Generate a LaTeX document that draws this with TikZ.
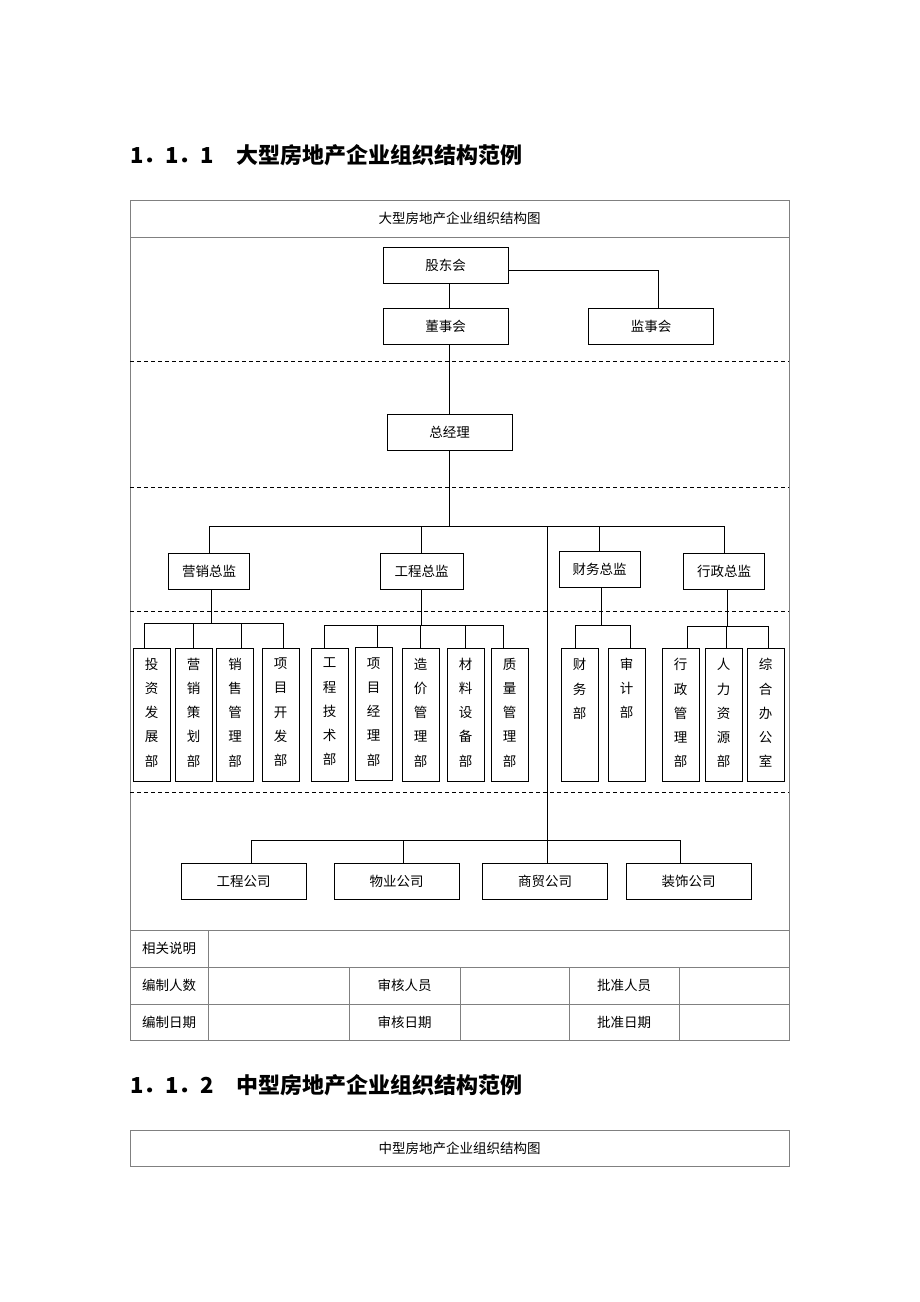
\documentclass[tikz,border=0pt]{standalone}
\usepackage{fontspec}
\setmainfont{Noto Sans CJK SC}
\usepackage{tikz}

% vertical text for the department boxes
\newcommand{\vtext}[1]{\parbox[c][113pt][t]{16pt}{\centering\fontsize{13.5}{24.2}\selectfont #1}}

\tikzset{
  unitbox/.style={draw, line width=1pt, minimum width=125, minimum height=36, inner sep=0pt, font=\fontsize{13.5}{16}\selectfont},
  chiefbox/.style={unitbox, minimum width=81},
  deptbox/.style={draw, line width=1pt, minimum width=37, minimum height=133, inner sep=0pt},
  link/.style={line width=0.9pt},
  sepline/.style={dash pattern=on 4pt off 3pt, line width=0.8pt},
  frame/.style={draw=gray, line width=1pt},
  cell/.style={font=\fontsize{13.5}{16}\selectfont, inner sep=0pt},
  heading/.style={anchor=west, inner sep=0pt, font=\fontsize{22}{26}\selectfont\bfseries},
}

\begin{document}
\begin{tikzpicture}[x=1pt, y=-1pt]
  \useasboundingbox (0,0) rectangle (920,1302);

  % headings
  \node[heading] (h1) at (130,155) {1．1．1　大型房地产企业组织结构范例};
  \node[heading] (h2) at (130,1085) {1．1．2　中型房地产企业组织结构范例};

  % table frame
  \draw[frame] (130,200) rectangle (789,1040);
  \draw[frame] (130,237) -- (789,237);
  \node[cell] (ttl1) at (459.5,218.5) {大型房地产企业组织结构图};
  \foreach \yy in {361,487,611,792}
    \draw[sepline] (130,\yy) -- (789,\yy);

  % top level
  \node[unitbox] (gdh) at (445.5,265.5) {股东会};
  \node[unitbox] (dsh) at (445.5,326) {董事会};
  \node[unitbox] (jsh) at (651,326) {监事会};
  \node[unitbox] (zjl) at (449.5,432) {总经理};
  \draw[link] (gdh.south -| zjl) -- (dsh.north -| zjl);
  \draw[link] ([yshift=-5]gdh.east) -| ([xshift=7]jsh.north);
  \draw[link] (dsh.south -| zjl) -- (zjl);

  % directors
  \node[chiefbox] (yxzj) at (209,571) {营销总监};
  \node[chiefbox, minimum width=83] (gczj) at (421.5,571) {工程总监};
  \node[chiefbox] (cwzj) at (599.5,569.5) {财务总监};
  \node[chiefbox] (xzzj) at (724,571) {行政总监};
  \coordinate (bus1) at (449.5,526);
  \draw[link] (zjl) -- (bus1);
  \foreach \c in {yxzj,gczj,cwzj,xzzj}
    \draw[link] (\c.north) |- (bus1);

  % departments
  \node[deptbox] (tzfz) at (151.5,714.5) {\vtext{投\\资\\发\\展\\部}};
  \node[deptbox] (yxch) at (193.5,714.5) {\vtext{营\\销\\策\\划\\部}};
  \node[deptbox] (xsgl) at (235,714.5) {\vtext{销\\售\\管\\理\\部}};
  \node[deptbox] (xmkf) at (280.5,714.5) {\vtext{项\\目\\开\\发\\部}};
  \node[deptbox] (gcjs) at (329.5,714.5) {\vtext{工\\程\\技\\术\\部}};
  \node[deptbox] (xmjl) at (373.5,714) {\vtext{项\\目\\经\\理\\部}};
  \node[deptbox] (zjgl) at (420.5,714.5) {\vtext{造\\价\\管\\理\\部}};
  \node[deptbox] (clsb) at (465.5,714.5) {\vtext{材\\料\\设\\备\\部}};
  \node[deptbox] (zlgl) at (509.5,714.5) {\vtext{质\\量\\管\\理\\部}};
  \node[deptbox] (cwb) at (579.5,715) {\vtext{财\\务\\部}};
  \node[deptbox] (sjb) at (626.5,714.5) {\vtext{审\\计\\部}};
  \node[deptbox] (xzgl) at (680.5,715) {\vtext{行\\政\\管\\理\\部}};
  \node[deptbox] (rlzy) at (723.5,715) {\vtext{人\\力\\资\\源\\部}};
  \node[deptbox] (zhbg) at (765.5,715) {\vtext{综\\合\\办\\公\\室}};

  \coordinate (busA) at (211,623);
  \coordinate (busB) at (421.5,625);
  \coordinate (busC) at (601,625);
  \coordinate (busD) at (727,626);
  \draw[link] (yxzj.south -| busA) -- (busA);
  \draw[link] (gczj) -- (busB);
  \draw[link] (cwzj.south -| busC) -- (busC);
  \draw[link] (xzzj.south -| busD) -- (busD);
  \draw[link] ([xshift=-7]tzfz.north) |- (busA);
  \draw[link] (yxch.north) |- (busA);
  \draw[link] ([xshift=6]xsgl.north) |- (busA);
  \draw[link] ([xshift=3]xmkf.north) |- (busA);
  \draw[link] ([xshift=-5]gcjs.north) |- (busB);
  \draw[link] ([xshift=4]xmjl.north) |- (busB);
  \foreach \d in {zjgl,clsb}
    \draw[link] (\d.north) |- (busB);
  \draw[link] ([xshift=-6]zlgl.north) |- (busB);
  \draw[link] ([xshift=-4]cwb.north) |- (busC);
  \draw[link] ([xshift=4]sjb.north) |- (busC);
  \draw[link] ([xshift=7]xzgl.north) |- (busD);
  \draw[link] ([xshift=3]rlzy.north) |- (busD);
  \draw[link] ([xshift=3]zhbg.north) |- (busD);

  % subsidiaries
  \node[unitbox] (gcgs) at (243.5,881) {工程公司};
  \node[unitbox] (wygs) at (396.5,881) {物业公司};
  \node[unitbox] (smgs) at (545,881) {商贸公司};
  \node[unitbox] (zsgs) at (688.5,881) {装饰公司};
  \coordinate (bus2) at (547,840);
  \draw[link] ([xshift=2]smgs.north) |- (bus1);
  \draw[link] ([xshift=8]gcgs.north) |- (bus2);
  \draw[link] ([xshift=7]wygs.north) |- (bus2);
  \draw[link] ([xshift=-8]zsgs.north) |- (bus2);

  % footer rows
  \foreach \yy in {930,967,1004}
    \draw[frame] (130,\yy) -- (789,\yy);
  \draw[frame] (208,930) -- (208,1040);
  \foreach \xx in {349,460,569,679}
    \draw[frame] (\xx,967) -- (\xx,1040);
  \node[cell] (xgsm) at (169,948.5) {相关说明};
  \node[cell] (bzrs) at (169,985.5) {编制人数};
  \node[cell] (shry) at (404.5,985.5) {审核人员};
  \node[cell] (pzry) at (624,985.5) {批准人员};
  \node[cell] (bzrq) at (169,1022) {编制日期};
  \node[cell] (shrq) at (404.5,1022) {审核日期};
  \node[cell] (pzrq) at (624,1022) {批准日期};

  % second table
  \draw[frame] (130,1130) rectangle (789,1166);
  \node[cell] (ttl2) at (459.5,1148) {中型房地产企业组织结构图};
\end{tikzpicture}
\end{document}
